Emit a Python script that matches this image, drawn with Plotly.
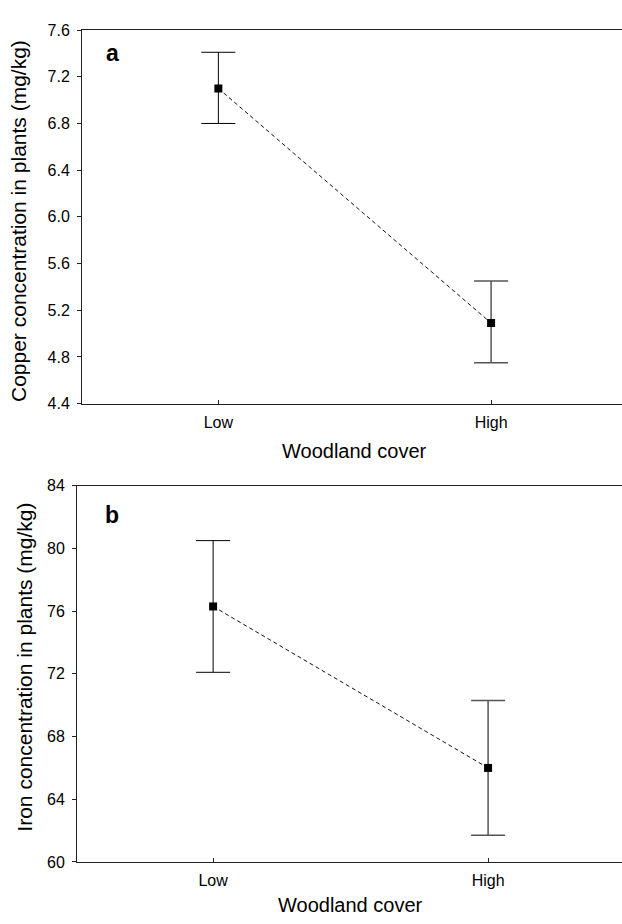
import plotly.graph_objects as go

# ---- data ----
categories = ["Low", "High"]

copper_mean = [7.10, 5.09]
copper_upper = [7.41, 5.45]
copper_lower = [6.80, 4.75]

iron_mean = [76.3, 66.0]
iron_upper = [80.5, 70.3]
iron_lower = [72.1, 61.7]

copper_ticks = [4.4, 4.8, 5.2, 5.6, 6.0, 6.4, 6.8, 7.2, 7.6]
iron_ticks = [60, 64, 68, 72, 76, 80, 84]

x_title = "Woodland cover"
copper_title = "Copper concentration in plants (mg/kg)"
iron_title = "Iron concentration in plants (mg/kg)"
panel_labels = ["a", "b"]

FONT = "Liberation Sans, Arial, sans-serif"
W, H = 622, 924

fig = go.Figure()

err_styles = [dict(color="#000000", thickness=1), dict(color="#555555", thickness=1.5)]


def add_panel(xa, ya, means, upper, lower):
    fig.add_trace(go.Scatter(
        x=categories, y=means, mode="lines", xaxis=xa, yaxis=ya,
        line=dict(color="#111111", width=1, dash="4px,3px"),
        showlegend=False, hoverinfo="skip"))
    for i, c in enumerate(categories):
        fig.add_trace(go.Scatter(
            x=[c], y=[means[i]], mode="markers", xaxis=xa, yaxis=ya,
            marker=dict(symbol="square", size=8, color="#000000"),
            error_y=dict(type="data", symmetric=False,
                         array=[upper[i] - means[i]],
                         arrayminus=[means[i] - lower[i]],
                         width=17, **err_styles[i]),
            showlegend=False))


add_panel("x", "y", copper_mean, copper_upper, copper_lower)
add_panel("x2", "y2", iron_mean, iron_upper, iron_lower)

xcommon = dict(type="category", categoryorder="array", categoryarray=categories,
               showline=True, linecolor="#222222", linewidth=1, mirror=True,
               ticks="inside", ticklen=4, tickcolor="#222222",
               showgrid=False, zeroline=False,
               tickfont=dict(family=FONT, size=16, color="#000000"))
ycommon = dict(showline=True, linecolor="#222222", linewidth=1,
               ticks="outside", ticklen=4, tickcolor="#222222",
               showgrid=False, zeroline=False,
               tickfont=dict(family=FONT, size=16, color="#000000"))

fig.update_layout(
    width=W, height=H,
    margin=dict(l=0, r=0, t=0, b=0),
    paper_bgcolor="white", plot_bgcolor="white",
    xaxis=dict(domain=[82 / W, 1], range=[-0.5, 1.48], anchor="y",
               ticklabelstandoff=4, **xcommon),
    yaxis=dict(domain=[1 - 403 / H, 1 - 22.5 / H], anchor="x",
               range=[copper_ticks[0], copper_ticks[-1]],
               tickvals=copper_ticks, ticktext=[f"{v:.1f}" for v in copper_ticks],
               ticklabelstandoff=4, **ycommon),
    xaxis2=dict(domain=[77 / W, 1], range=[-0.495, 1.487], anchor="y2",
                ticklabelstandoff=4, **xcommon),
    yaxis2=dict(domain=[1 - 870 / H, 1 - 486.7 / H], anchor="x2",
                range=[iron_ticks[0], iron_ticks[-1]],
                tickvals=iron_ticks, ticktext=[str(v) for v in iron_ticks],
                ticklabelstandoff=4, **ycommon),
)

ann = []
# y-axis titles
ann.append(dict(text=copper_title, xref="paper", yref="paper", x=18 / W, y=1 - 217 / H,
                textangle=-90, showarrow=False, xanchor="center", yanchor="middle",
                font=dict(family=FONT, size=21, color="#000000")))
ann.append(dict(text=iron_title, xref="paper", yref="paper", x=25 / W, y=1 - 672 / H,
                textangle=-90, showarrow=False, xanchor="center", yanchor="middle",
                font=dict(family=FONT, size=21, color="#000000")))
# x-axis titles
ann.append(dict(text=x_title, xref="x", yref="paper", x=0.5, y=1 - 451 / H,
                showarrow=False, xanchor="center", yanchor="middle",
                font=dict(family=FONT, size=20, color="#000000")))
ann.append(dict(text=x_title, xref="x2", yref="paper", x=0.5, y=1 - 914 / H,
                showarrow=False, xanchor="center", yanchor="middle",
                font=dict(family=FONT, size=20, color="#000000")))
# panel labels
ann.append(dict(text=f"<b>{panel_labels[0]}</b>", xref="paper", yref="paper",
                x=112 / W, y=1 - 46 / H, showarrow=False, xanchor="center", yanchor="middle",
                font=dict(family=FONT, size=23, color="#000000")))
ann.append(dict(text=f"<b>{panel_labels[1]}</b>", xref="paper", yref="paper",
                x=112 / W, y=1 - 516 / H, showarrow=False, xanchor="center", yanchor="middle",
                font=dict(family=FONT, size=23, color="#000000")))
fig.update_layout(annotations=ann)

fig.write_html("out.html",
               config={"displayModeBar": False},
               post_script="document.body.style.margin='0';document.body.style.overflow='hidden';")
